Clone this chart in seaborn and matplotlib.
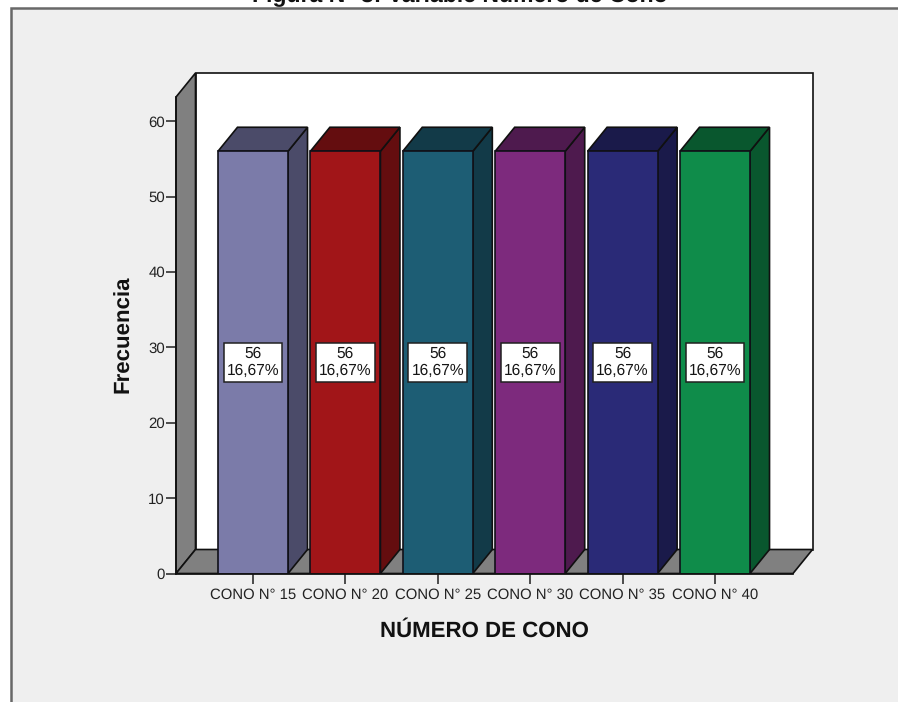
import matplotlib
matplotlib.use("Agg")
import matplotlib.pyplot as plt
from matplotlib.patches import Polygon, Rectangle
import pandas as pd
import seaborn as sns

categories = ["CONO N° 15", "CONO N° 20", "CONO N° 25", "CONO N° 30", "CONO N° 35", "CONO N° 40"]
frequencies = [56, 56, 56, 56, 56, 56]
percent_labels = ["16,67%", "16,67%", "16,67%", "16,67%", "16,67%", "16,67%"]
front_colors = ["#7b7ba9", "#a11518", "#1d5d74", "#7d2a7d", "#2a2a77", "#0f8c4a"]
shade_colors = ["#4b4b69", "#640d0f", "#123a48", "#4e1a4e", "#1a1a4a", "#09572e"]
y_ticks = [0, 10, 20, 30, 40, 50, 60]

W, H = 898, 702
sns.set_theme(style="white")
plt.rcParams["font.family"] = ["Liberation Sans", "DejaVu Sans"]
plt.rcParams["text.hinting"] = "no_hinting"

fig = plt.figure(figsize=(W / 100, H / 100), dpi=100, facecolor="white")

# Grey report panel behind the chart, open on the right and at the bottom
panel = fig.add_axes([0, 0, 1, 1], zorder=0)
panel.set_xlim(0, W)
panel.set_ylim(H, 0)
panel.axis("off")
panel.add_patch(Rectangle((11, 8), W, H, facecolor="#efefef", edgecolor="none"))
panel.plot([11, 11, W], [H, 8, 8], color="#686868", lw=1.8, solid_joinstyle="miter")
panel.text(460, 2.5, "Figura N° 3: Variable Número de Cono", ha="center", va="baseline",
           fontsize=16.6, fontweight="bold", color="#111111", clip_on=False)

# Axes box spans the front edge of the floor and the front edge of the left wall
left, right, bottom, top = 176, 793, 573.5, 97
ax = fig.add_axes([left / W, 1 - bottom / H, (right - left) / W, (bottom - top) / H], zorder=1)
ax.patch.set_alpha(0)

table = pd.DataFrame({"categoria": categories, "frecuencia": frequencies})
bar_width = 0.758
sns.barplot(data=table, x="categoria", y="frecuencia", hue="categoria", palette=front_colors,
            order=categories, hue_order=categories, dodge=False, legend=False,
            width=bar_width, saturation=1, edgecolor="#101018", linewidth=1.2, ax=ax, zorder=5)

step_px = 92.4
unit_px = 7.54
ax.set_xlim((left - 253) / step_px, (right - 253) / step_px)
ax.set_ylim(0, (bottom - top) / unit_px)
x0, x1 = ax.get_xlim()
y1 = ax.get_ylim()[1]
dx = 19.5 / step_px
dy = 24 / unit_px

edge = dict(edgecolor="#101010", linewidth=1.2, joinstyle="miter", clip_on=False)

# Back wall, left wall and floor of the 3D box
ax.add_patch(Polygon([(x0 + dx, dy), (x1 + dx, dy), (x1 + dx, y1 + dy), (x0 + dx, y1 + dy)],
                     facecolor="white", zorder=1, **edge))
ax.add_patch(Polygon([(x0, 0), (x0 + dx, dy), (x0 + dx, y1 + dy), (x0, y1)],
                     facecolor="#808080", zorder=2, **edge))
ax.add_patch(Polygon([(x0, 0), (x1, 0), (x1 + dx, dy), (x0 + dx, dy)],
                     facecolor="#808080", zorder=2, **edge))

# Extruded side and top of each bar, with the value box on the front face
for i, value in enumerate(frequencies):
    a, b = i - bar_width / 2, i + bar_width / 2
    ax.add_patch(Polygon([(b, 0), (b + dx, dy), (b + dx, value + dy), (b, value)],
                         facecolor=shade_colors[i], zorder=4, **edge))
    ax.add_patch(Polygon([(a, value), (b, value), (b + dx, value + dy), (a + dx, value + dy)],
                         facecolor=shade_colors[i], zorder=4, **edge))
    ax.text(i, value / 2, f"{value}\n{percent_labels[i]}", ha="center", va="center",
            fontsize=11.2, linespacing=1.25, color="#151515", zorder=7,
            bbox=dict(boxstyle="square,pad=0.2", facecolor="white", edgecolor="#202020", linewidth=1.1))

ax.set_yticks(y_ticks)
ax.set_xticks(range(len(categories)))
ax.set_xticklabels(categories)
ax.tick_params(axis="y", direction="out", length=7, width=1.2, color="#303030",
               labelsize=10.8, labelcolor="#222222", pad=1, left=True)
ax.tick_params(axis="x", direction="out", length=7, width=1.2, color="#303030",
               labelsize=10.7, labelcolor="#222222", pad=3.5, bottom=True)

for side in ["top", "right"]:
    ax.spines[side].set_visible(False)
for side in ["left", "bottom"]:
    ax.spines[side].set_color("#101010")
    ax.spines[side].set_linewidth(1.2)
    ax.spines[side].set_zorder(6)

ax.set_xlabel("")
ax.set_ylabel("")
panel.text(484, 631, "NÚMERO DE CONO", ha="center", va="center", fontsize=16,
           fontweight="bold", color="#111111")
panel.text(123.5, 334, "Frecuencia", ha="center", va="center", rotation=90, fontsize=16,
           fontweight="bold", color="#111111")

fig.savefig("out.png", dpi=100)
